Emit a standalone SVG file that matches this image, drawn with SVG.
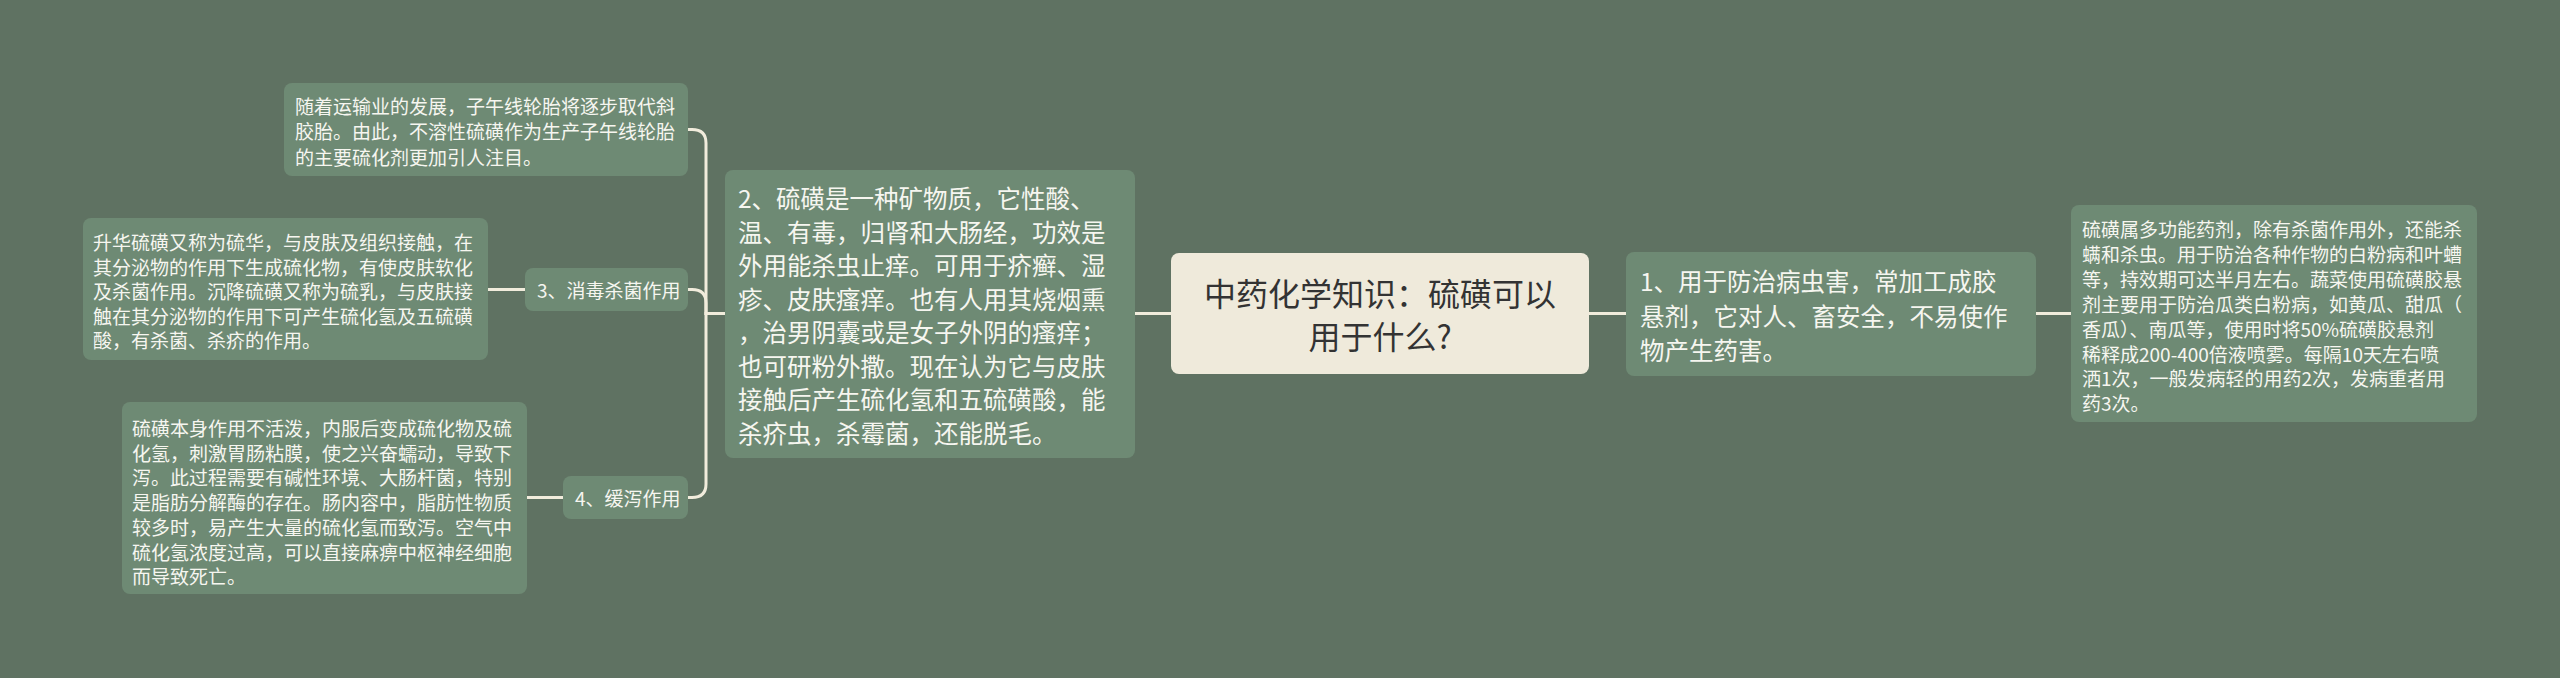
<svg xmlns="http://www.w3.org/2000/svg" width="2560" height="678" viewBox="0 0 2560 678">
<style>
.bg{fill:#5f7262}
.nd{fill:#6e8a74}
.rt{fill:#efeadb}
.ln{fill:none;stroke:#f1ecdc;stroke-width:3;stroke-linecap:round}
text{font-family:"Noto Sans CJK SC","Noto Sans",sans-serif;fill:#f6f6f0;dominant-baseline:central}
.s{font-size:19px}
.m{font-size:24.5px}
.r{font-size:32px;fill:#333333;text-anchor:middle}
</style>
<rect class="bg" x="0" y="0" width="2560" height="678"/>
<g id="connectors">
<path class="ln" d="M725 313.5 H706 V143 Q706 129.5 692 129.5 H688"/>
<path class="ln" d="M725 313.5 H706 V303 Q706 289.5 692 289.5 H688"/>
<path class="ln" d="M725 313.5 H706 V484 Q706 497.5 692 497.5 H688"/>
<path class="ln" d="M488 289.5 H525"/>
<path class="ln" d="M527 497.5 H563"/>
<path class="ln" d="M1135 313.5 H1171"/>
<path class="ln" d="M1589 313.5 H1626"/>
<path class="ln" d="M2036 313.5 H2071"/>
</g>
<g id="root">
<rect class="rt" x="1171" y="253" width="418" height="121" rx="8"/>
<text class="r" x="1380" y="292">中药化学知识：硫磺可以</text>
<text class="r" x="1380" y="335">用于什么?</text>
</g>
<g id="node-2">
<rect class="nd" x="725" y="170" width="410" height="288" rx="8"/>
<text class="m" x="738"><tspan x="738" y="197">2、硫磺是一种矿物质，它性酸、</tspan><tspan x="738" y="230.5">温、有毒，归肾和大肠经，功效是</tspan><tspan x="738" y="264">外用能杀虫止痒。可用于疥癣、湿</tspan><tspan x="738" y="297.5">疹、皮肤瘙痒。也有人用其烧烟熏</tspan><tspan x="738" y="331">，治男阴囊或是女子外阴的瘙痒；</tspan><tspan x="738" y="364.5">也可研粉外撒。现在认为它与皮肤</tspan><tspan x="738" y="398">接触后产生硫化氢和五硫磺酸，能</tspan><tspan x="738" y="431.5">杀疥虫，杀霉菌，还能脱毛。</tspan></text>
</g>
<g id="node-a">
<rect class="nd" x="284" y="83" width="404" height="93" rx="8"/>
<text class="s"><tspan x="295" y="104.5">随着运输业的发展，子午线轮胎将逐步取代斜</tspan><tspan x="295" y="130">胶胎。由此，不溶性硫磺作为生产子午线轮胎</tspan><tspan x="295" y="155.5">的主要硫化剂更加引人注目。</tspan></text>
</g>
<g id="node-3">
<rect class="nd" x="525" y="268" width="163" height="43" rx="8"/>
<text class="s" x="537" y="289.5">3、消毒杀菌作用</text>
</g>
<g id="node-b">
<rect class="nd" x="83" y="218" width="405" height="142" rx="8"/>
<text class="s"><tspan x="93" y="241">升华硫磺又称为硫华，与皮肤及组织接触，在</tspan><tspan x="93" y="265.5">其分泌物的作用下生成硫化物，有使皮肤软化</tspan><tspan x="93" y="290">及杀菌作用。沉降硫磺又称为硫乳，与皮肤接</tspan><tspan x="93" y="314.5">触在其分泌物的作用下可产生硫化氢及五硫磺</tspan><tspan x="93" y="339">酸，有杀菌、杀疥的作用。</tspan></text>
</g>
<g id="node-4">
<rect class="nd" x="563" y="476" width="125" height="43" rx="8"/>
<text class="s" x="575" y="497.5">4、缓泻作用</text>
</g>
<g id="node-c">
<rect class="nd" x="122" y="402" width="405" height="192" rx="8"/>
<text class="s"><tspan x="132" y="427">硫磺本身作用不活泼，内服后变成硫化物及硫</tspan><tspan x="132" y="451.7">化氢，刺激胃肠粘膜，使之兴奋蠕动，导致下</tspan><tspan x="132" y="476.4">泻。此过程需要有碱性环境、大肠杆菌，特别</tspan><tspan x="132" y="501.1">是脂肪分解酶的存在。肠内容中，脂肪性物质</tspan><tspan x="132" y="525.8">较多时，易产生大量的硫化氢而致泻。空气中</tspan><tspan x="132" y="550.5">硫化氢浓度过高，可以直接麻痹中枢神经细胞</tspan><tspan x="132" y="575.2">而导致死亡。</tspan></text>
</g>
<g id="node-1">
<rect class="nd" x="1626" y="252" width="410" height="124" rx="8"/>
<text class="m"><tspan x="1640" y="280">1、用于防治病虫害，常加工成胶</tspan><tspan x="1640" y="314.5">悬剂，它对人、畜安全，不易使作</tspan><tspan x="1640" y="349">物产生药害。</tspan></text>
</g>
<g id="node-r">
<rect class="nd" x="2071" y="205" width="406" height="217" rx="8"/>
<text class="s"><tspan x="2082" y="228">硫磺属多功能药剂，除有杀菌作用外，还能杀</tspan><tspan x="2082" y="252.9">螨和杀虫。用于防治各种作物的白粉病和叶螬</tspan><tspan x="2082" y="277.8">等，持效期可达半月左右。蔬菜使用硫磺胶悬</tspan><tspan x="2082" y="302.7">剂主要用于防治瓜类白粉病，如黄瓜、甜瓜（</tspan><tspan x="2082" y="327.6">香瓜）、南瓜等，使用时将50%硫磺胶悬剂</tspan><tspan x="2082" y="352.5">稀释成200-400倍液喷雾。每隔10天左右喷</tspan><tspan x="2082" y="377.4">洒1次，一般发病轻的用药2次，发病重者用</tspan><tspan x="2082" y="402.3">药3次。</tspan></text>
</g>
</svg>
